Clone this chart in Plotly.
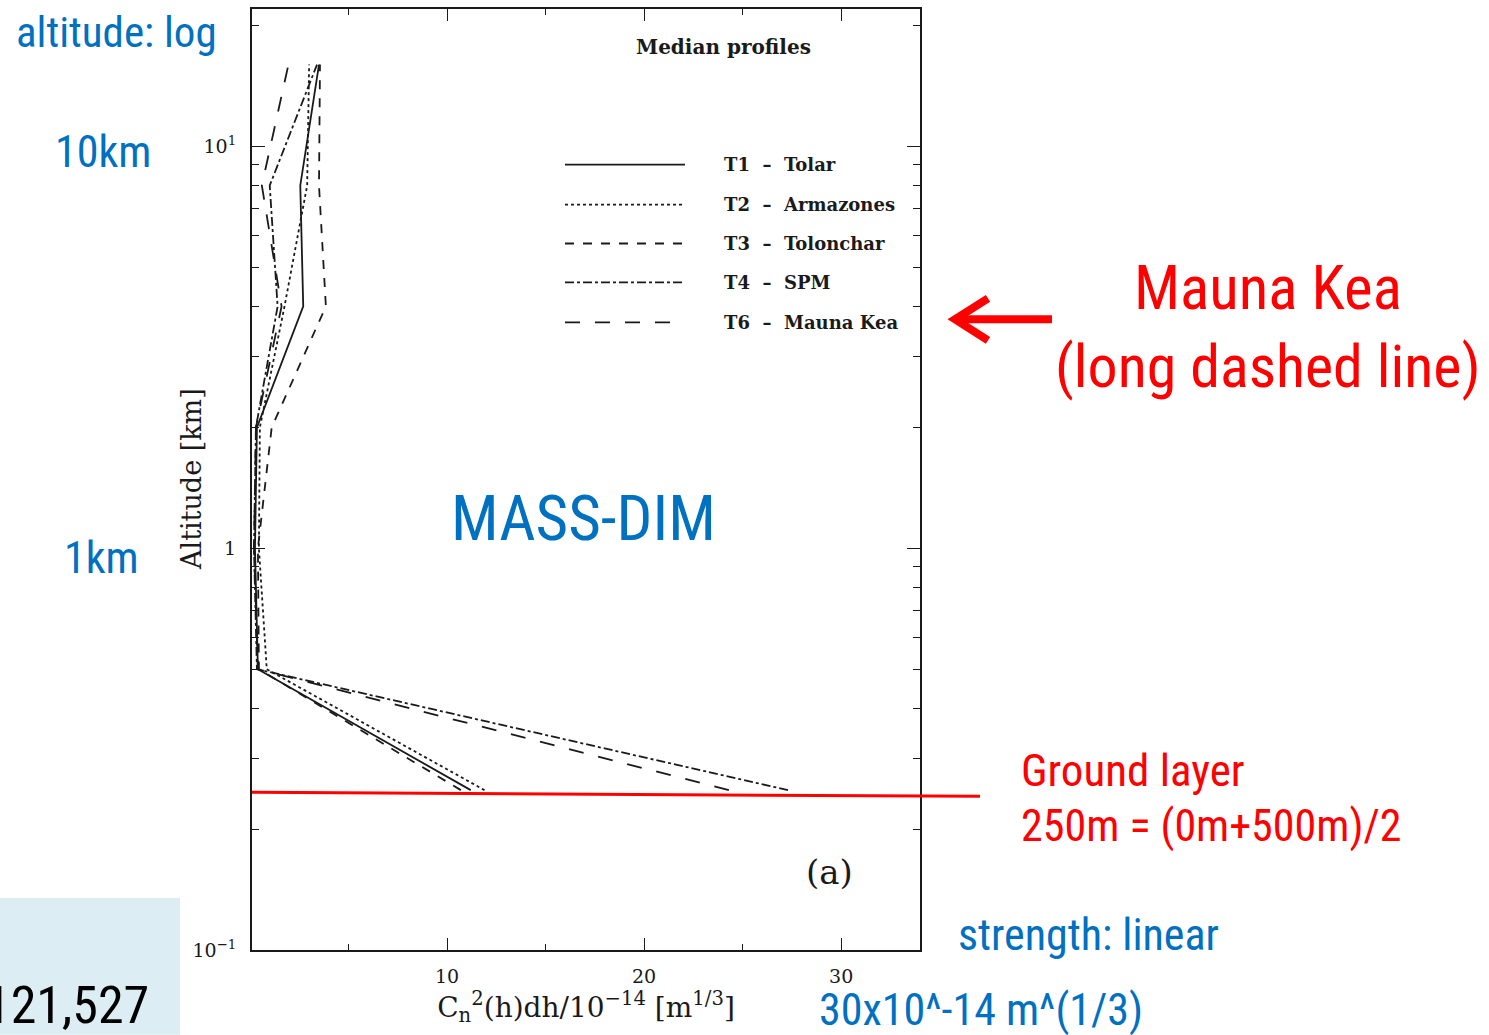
import plotly.graph_objects as go

# ---- data ----
altitude_km = [0.25, 0.5, 1, 2, 4, 8, 16]
t1_tolar = [11.2, 0.4, 0.25, 0.35, 2.7, 2.55, 3.5]
t2_armazones = [11.9, 0.85, 0.45, 0.5, 1.75, 2.9, 3.0]
t3_tolonchar = [10.7, 0.45, 0.4, 1.1, 3.85, 3.5, 3.55]
t4_spm = [27.3, 0.35, 0.2, 0.3, 1.4, 1.0, 3.4]
t6_mauna_kea = [24.3, 0.4, 0.2, 0.3, 1.6, 0.6, 1.95]

SP = "\u00a0\u00a0"
series_names = [f"T1{SP}\u2013{SP}Tolar", f"T2{SP}\u2013{SP}Armazones",
                f"T3{SP}\u2013{SP}Tolonchar", f"T4{SP}\u2013{SP}SPM",
                f"T6{SP}\u2013{SP}Mauna Kea"]
series_values = [t1_tolar, t2_armazones, t3_tolonchar, t4_spm, t6_mauna_kea]
series_dash = ["solid", "dot", "dash", "dashdot", "longdash"]

x_tick_vals = [10, 20, 30]
x_tick_text = ["10", "20", "30"]
y_tick_vals = [0.1, 1, 10]
y_tick_text = ["10<sup>\u22121</sup>", "1", "10<sup>1</sup>"]
y_minor_vals = [0.2, 0.3, 0.4, 0.5, 0.6, 0.7, 0.8, 0.9,
                2, 3, 4, 5, 6, 7, 8, 9, 20]

# ---- layout geometry (pixels of the 1489x1035 page) ----
W, H = 1489, 1035
L, R, T, B = 252, 920, 7, 950


def px(x):
    return (x - L) / (R - L)


def py(y):
    return (B - y) / (B - T)


SERIF = "DejaVu Serif"
NARROW = "Liberation Sans Narrow, Roboto Condensed, Liberation Sans, Arial"
BLUE = "#0070C0"
RED = "#FF0000"
INK = "#1a1a1a"

fig = go.Figure()
for name, vals, dash in zip(series_names, series_values, series_dash):
    fig.add_trace(go.Scatter(
        x=vals, y=altitude_km, mode="lines", name=name,
        line=dict(color=INK, width=1.8, dash=dash),
        showlegend=False, hoverinfo="x+y+name"))

shapes = []
annotations = []

# hand-drawn style legend inside the plot
legend_y = [163, 203, 242, 281, 321]
for name, dash, ly in zip(series_names, series_dash, legend_y):
    shapes.append(dict(type="line", xref="paper", yref="paper",
                       x0=px(565), x1=px(685), y0=py(ly), y1=py(ly),
                       line=dict(color=INK, width=1.8, dash=dash)))
    annotations.append(dict(text=name, xref="paper", yref="paper",
                            x=px(722), y=py(ly), xanchor="left", yanchor="middle",
                            showarrow=False,
                            font=dict(family=SERIF, size=18, color=INK, weight="bold")))

annotations.append(dict(text="Median profiles", xref="paper", yref="paper",
                        x=px(723), y=py(45), xanchor="center", yanchor="middle",
                        showarrow=False,
                        font=dict(family=SERIF, size=20, color=INK, weight="bold")))
annotations.append(dict(text="(a)", xref="paper", yref="paper",
                        x=px(829), y=py(872), xanchor="center", yanchor="middle",
                        showarrow=False, font=dict(family=SERIF, size=34, color=INK)))
annotations.append(dict(text="Altitude [km]", xref="paper", yref="paper",
                        x=px(191), y=py(478), xanchor="center", yanchor="middle",
                        textangle=-90, showarrow=False,
                        font=dict(family=SERIF, size=27, color=INK)))

# light blue box bottom-left
shapes.append(dict(type="rect", xref="paper", yref="paper",
                   x0=px(0), x1=px(180), y0=py(898), y1=py(1035),
                   fillcolor="#DCEEF4", line=dict(width=0), layer="below"))
annotations.append(dict(text="121,527", xref="paper", yref="paper",
                        x=px(151), y=py(1006), xanchor="right", yanchor="middle",
                        showarrow=False, font=dict(family=NARROW, size=52, color="black")))

# red ground-layer line
shapes.append(dict(type="line", xref="paper", yref="paper",
                   x0=px(252), x1=px(980), y0=py(792), y1=py(796),
                   line=dict(color=RED, width=3)))

# red arrow pointing at legend entry
shapes.append(dict(type="line", xref="paper", yref="paper",
                   x0=px(1052), x1=px(960), y0=py(318), y1=py(318),
                   line=dict(color=RED, width=8)))
shapes.append(dict(type="path", xref="paper", yref="paper",
                   path=f"M {px(988)},{py(297)} L {px(955)},{py(318)} L {px(988)},{py(339)}",
                   line=dict(color=RED, width=8)))

blue_texts = [
    ("altitude: log", 14, 30, "left", 43),
    ("10km", 103, 150, "center", 44),
    ("1km", 101, 557, "center", 44),
    ("MASS-DIM", 583, 518, "center", 63),
    ("strength: linear", 956, 935, "left", 44),
    ("30x10^-14 m^(1/3)", 817, 1010, "left", 44),
]
for txt, x, y, anc, size in blue_texts:
    annotations.append(dict(text=txt, xref="paper", yref="paper", x=px(x), y=py(y),
                            xanchor=anc, yanchor="middle", showarrow=False,
                            font=dict(family=NARROW, size=size, color=BLUE)))

red_texts = [
    ("Mauna Kea", 1268, 287, "center", 61),
    ("(long dashed line)", 1268, 365, "center", 60),
    ("Ground layer", 1019, 770, "left", 45),
    ("250m = (0m+500m)/2", 1019, 826, "left", 44),
]
for txt, x, y, anc, size in red_texts:
    annotations.append(dict(text=txt, xref="paper", yref="paper", x=px(x), y=py(y),
                            xanchor=anc, yanchor="middle", showarrow=False,
                            font=dict(family=NARROW, size=size, color=RED)))

fig.update_layout(
    width=W, height=H,
    margin=dict(l=L, r=W - R, t=T, b=H - B, pad=0),
    paper_bgcolor="white", plot_bgcolor="white",
    shapes=shapes, annotations=annotations,
    showlegend=False,
    font=dict(family=SERIF, color=INK),
    xaxis=dict(
        range=[0.1, 34.0], showgrid=False, zeroline=False,
        showline=True, linecolor=INK, linewidth=2, mirror="allticks",
        ticks="inside", ticklen=12, tickwidth=1.2, tickcolor=INK,
        tickvals=x_tick_vals, ticktext=x_tick_text,
        tickfont=dict(family=SERIF, size=19, color=INK), ticklabelstandoff=8,
        minor=dict(ticks="inside", ticklen=6, tickwidth=1.2, tickcolor=INK,
                   tick0=0, dtick=5, showgrid=False),
        title=dict(text="C<sub>n</sub><sup>2</sup>(h)dh/10<sup>\u221214</sup> [m<sup>1/3</sup>]",
                   font=dict(family=SERIF, size=28, color=INK), standoff=0),
    ),
    yaxis=dict(
        type="log", range=[-1, 1.3424], showgrid=False, zeroline=False,
        showline=True, linecolor=INK, linewidth=2, mirror="allticks",
        ticks="inside", ticklen=13, tickwidth=1.2, tickcolor=INK,
        tickvals=y_tick_vals, ticktext=y_tick_text,
        tickfont=dict(family=SERIF, size=19, color=INK), ticklabelstandoff=10,
        minor=dict(ticks="inside", ticklen=7, tickwidth=1.2, tickcolor=INK,
                   tickvals=y_minor_vals, showgrid=False),
    ),
)

fig.write_html("out.html",
               config={"displayModeBar": False},
               post_script="document.body.style.margin='0px';"
                           "document.body.style.overflow='hidden';")
